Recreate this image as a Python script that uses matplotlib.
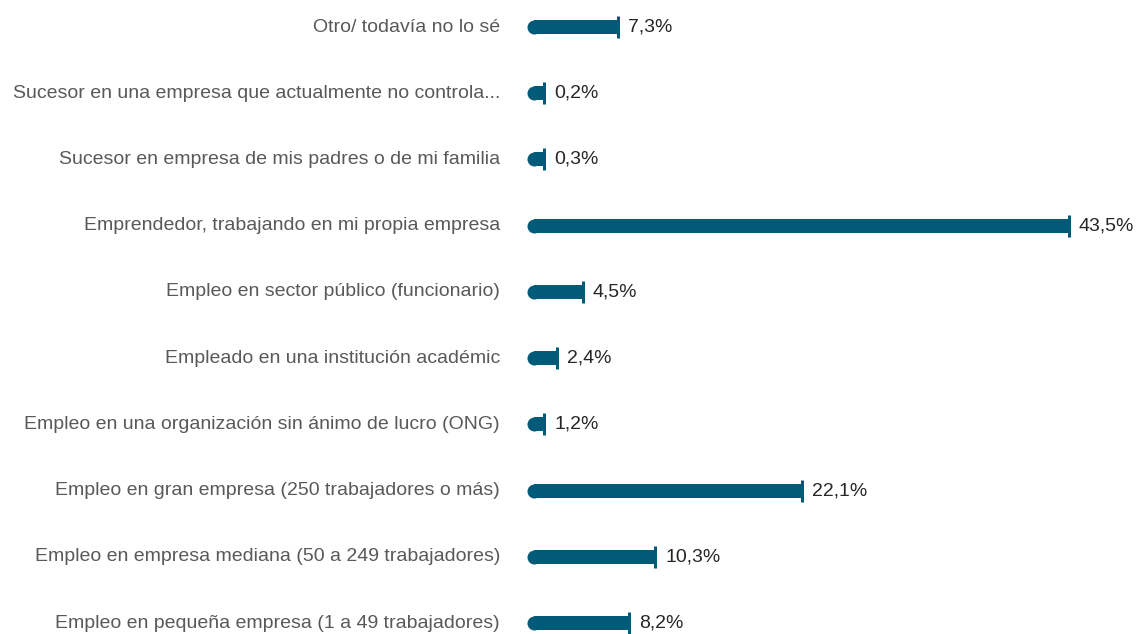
import numpy as np
import matplotlib.pyplot as plt

categories = [
    "Empleo en pequeña empresa (1 a 49 trabajadores)",
    "Empleo en empresa mediana (50 a 249 trabajadores)",
    "Empleo en gran empresa (250 trabajadores o más)",
    "Empleo en una organización sin ánimo de lucro (ONG)",
    "Empleado en una institución académic",
    "Empleo en sector público (funcionario)",
    "Emprendedor, trabajando en mi propia empresa",
    "Sucesor en empresa de mis padres o de mi familia",
    "Sucesor en una empresa que actualmente no controla...",
    "Otro/ todavía no lo sé",
]
values = [8.2, 10.3, 22.1, 1.2, 2.4, 4.5, 43.5, 0.3, 0.2, 7.3]
labels = ["8,2%", "10,3%", "22,1%", "1,2%", "2,4%", "4,5%", "43,5%", "0,3%", "0,2%", "7,3%"]

plt.rcParams['font.family'] = ['Liberation Sans', 'DejaVu Sans']

color = "#005a78"
W, H = 1142, 634
fig = plt.figure(figsize=(W / 100, H / 100), dpi=100)
ax = fig.add_axes([527 / W, 0, 1 - 527 / W, 1])

px = 1 / 12.46  # data units per pixel along x
ax.set_xlim(0, (W - 527) * px)
ax.set_ylim(-0.166, 9.408)

y = np.arange(len(values))
shown = np.maximum(values, 1.4)  # tiny shares still get a visible stub
r = 7 * px
bar_h = 14 * 9 / 596

ax.barh(y, shown - r, left=r, height=bar_h, color=color)
ax.scatter(np.full(len(y), r), y, s=(14 * 0.72) ** 2, color=color, marker='o', linewidths=0)
ax.plot(shown, y, linestyle='none', marker='|', markersize=22 * 0.72,
        markeredgewidth=3 * 0.72, color=color)

for yi, v, lab in zip(y, shown, labels):
    ax.annotate(lab, (v, yi), xytext=(7, 0), textcoords='offset points',
                ha='left', va='center', fontsize=14, color='#262626')

for yi, cat in zip(y, categories):
    ax.annotate(cat, (0, yi), xytext=(-27 * 0.72, 0), textcoords='offset points',
                ha='right', va='center', fontsize=14, color='#595959',
                annotation_clip=False)

ax.axis('off')
fig.savefig('out.png', dpi=100)
